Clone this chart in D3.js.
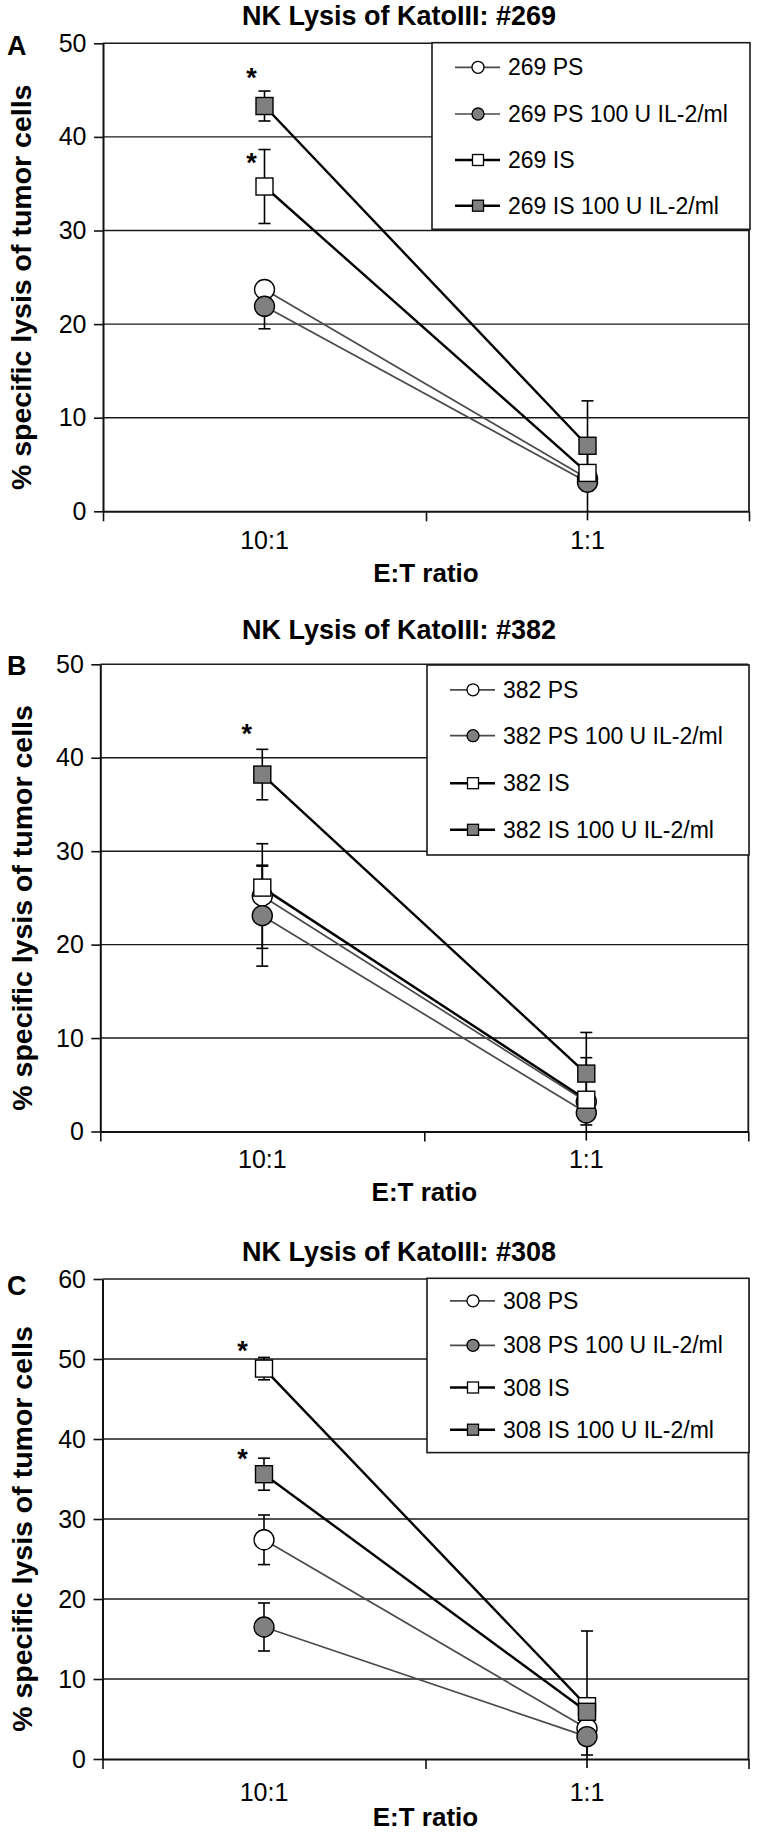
<!DOCTYPE html>
<html>
<head>
<meta charset="utf-8">
<script src="https://cdn.jsdelivr.net/npm/d3@7"></script>
<style>
  body { margin: 0; background: #fff; }
  text { font-family: "Liberation Sans", Arial, Helvetica, sans-serif; fill: #000; }
</style>
</head>
<body>
<script>
// data
var categories = ["10:1", "1:1"];
var seriesNames = ["PS", "PS 100 U IL-2/ml", "IS", "IS 100 U IL-2/ml"];
var donors = ["269", "382", "308"];
var panelLetters = ["A", "B", "C"];

// mean % lysis, one row per series: [10:1, 1:1]
var lysis269 = [[23.7, 3.5], [21.9, 3.1], [34.7, 4.1], [43.3, 7.0]];
var lysis382 = [[25.2, 3.2], [23.1, 2.0], [26.1, 3.4], [38.2, 6.2]];
var lysis308 = [[27.4, 3.8], [16.5, 2.8], [48.8, 6.6], [35.6, 5.9]];

// error bar half-widths
var err269 = [[0.8, 0.8], [2.4, 4.4], [3.95, 0.8], [1.6, 4.8]];
var err382 = [[5.6, 0.8], [5.4, 1.3], [2.3, 4.5], [2.7, 4.4]];
var err308 = [[3.1, 0.8], [3.0, 2.3], [1.4, 9.4], [2.0, 0.8]];

// significance asterisks at 10:1 (value on the y scale)
var stars269 = [46.9, 37.8];
var stars382 = [43.2];
var stars308 = [51.75, 38.3];

var yTicks269 = [0, 10, 20, 30, 40, 50];
var yTicks382 = [0, 10, 20, 30, 40, 50];
var yTicks308 = [0, 10, 20, 30, 40, 50, 60];

var panels = [
  {lysis: lysis269, err: err269, stars: stars269, ticks: yTicks269},
  {lysis: lysis382, err: err382, stars: stars382, ticks: yTicks382},
  {lysis: lysis308, err: err308, stars: stars308, ticks: yTicks308}
];

// page layout per panel (pixels)
var layout = [
  {left: 103, right: 749, top: 43.3, bottom: 511.3, titleY: 25, letterY: 55, yTitleX: 31, xTickPad: 20, xTitleY: 581.7,
   legend: {x: 432, y: 42.7, w: 318, h: 186.6, rows: [24.6, 71.3, 117.3, 163]}, starDx: -13},
  {left: 100.3, right: 748.3, top: 664.3, bottom: 1131.5, titleY: 639.3, letterY: 675, yTitleX: 31.5, xTickPad: 18.5, xTitleY: 1201,
   legend: {x: 427, y: 665, w: 322, h: 190, rows: [24.8, 70.7, 118.2, 164.8]}, starDx: -15.6},
  {left: 102.5, right: 748.5, top: 1279, bottom: 1759, titleY: 1261, letterY: 1295, yTitleX: 31.5, xTickPad: 24.6, xTitleY: 1826,
   legend: {x: 427, y: 1278.3, w: 322, h: 174.3, rows: [22.5, 67, 109.2, 151.4]}, starDx: -21.5}
];

var gray = "#808080";
var lineColor = ["#4a4a4a", "#4a4a4a", "#000", "#000"];
var lineWidth = [1.7, 1.7, 2.4, 2.4];
var markerFill = ["#fff", gray, "#fff", gray];
var isSquare = [false, false, true, true];

var svg = d3.select("body").append("svg")
    .attr("width", 776)
    .attr("height", 1838);

panels.forEach(function(p, pi) {
  var L = layout[pi];
  var g = svg.append("g");
  var ymax = d3.max(p.ticks);

  var y = d3.scaleLinear().domain([0, ymax]).range([L.bottom, L.top]);
  var x = d3.scaleBand().domain(categories).range([L.left, L.right]).padding(0);
  var xb = d3.scaleLinear().domain([0, categories.length]).range([L.left, L.right]);
  var cx = function(i) { return x(categories[i]) + x.bandwidth() / 2; };

  // title and panel letter
  g.append("text")
      .attr("x", 399).attr("y", L.titleY)
      .attr("text-anchor", "middle")
      .style("font-size", "27px").style("font-weight", "bold")
      .text("NK Lysis of KatoIII: #" + donors[pi]);

  g.append("text")
      .attr("x", 7).attr("y", L.letterY)
      .style("font-size", "27px").style("font-weight", "bold")
      .text(panelLetters[pi]);

  // gridlines
  g.selectAll(".grid")
      .data(p.ticks.filter(function(t) { return t > 0; }))
      .enter().append("line")
      .attr("x1", L.left).attr("x2", L.right)
      .attr("y1", function(d) { return y(d); })
      .attr("y2", function(d) { return y(d); })
      .attr("stroke", "#1a1a1a").attr("stroke-width", 1.4);

  // right border of the plot area
  g.append("line")
      .attr("x1", L.right).attr("x2", L.right)
      .attr("y1", L.top).attr("y2", L.bottom)
      .attr("stroke", "#1a1a1a").attr("stroke-width", 1.8);

  // y axis
  var yAxis = g.append("g")
      .attr("transform", "translate(" + L.left + ",0)")
      .call(d3.axisLeft(y).tickValues(p.ticks).tickSize(9).tickSizeOuter(0).tickPadding(7.5));
  yAxis.select(".domain").attr("stroke", "#111").attr("stroke-width", 2);
  yAxis.selectAll(".tick line").attr("stroke", "#111").attr("stroke-width", 1.6);
  yAxis.selectAll("text").style("font-size", "25px").attr("fill", "#000");

  // x axis: ticks between categories, labels at centres
  var xTicks = g.append("g")
      .attr("transform", "translate(0," + L.bottom + ")")
      .call(d3.axisBottom(xb).tickValues(d3.range(categories.length + 1)).tickFormat("").tickSize(10).tickSizeOuter(0));
  xTicks.select(".domain").attr("stroke", "#111").attr("stroke-width", 2);
  xTicks.selectAll(".tick line").attr("stroke", "#111").attr("stroke-width", 1.6);

  var xLabels = g.append("g")
      .attr("transform", "translate(0," + L.bottom + ")")
      .call(d3.axisBottom(x).tickSize(0).tickPadding(L.xTickPad));
  xLabels.select(".domain").remove();
  xLabels.selectAll("text").style("font-size", "25px").attr("fill", "#000");

  // axis titles
  g.append("text")
      .attr("transform", "translate(" + L.yTitleX + "," + ((L.top + L.bottom) / 2 + 10) + ") rotate(-90)")
      .attr("text-anchor", "middle")
      .style("font-size", "28.5px").style("font-weight", "bold")
      .text("% specific lysis of tumor cells");

  g.append("text")
      .attr("x", (L.left + L.right) / 2).attr("y", L.xTitleY)
      .attr("text-anchor", "middle")
      .style("font-size", "26px").style("font-weight", "bold")
      .text("E:T ratio");

  // error bars (cap hidden when the end falls below the axis)
  var lowLimit = L.bottom + 9;
  p.lysis.forEach(function(vals, si) {
    vals.forEach(function(v, ci) {
      var e = p.err[si][ci];
      var yt = y(v + e), yb = Math.min(y(v - e), lowLimit);
      var xc = cx(ci);
      g.append("line")
          .attr("x1", xc).attr("x2", xc).attr("y1", yt).attr("y2", yb)
          .attr("stroke", "#000").attr("stroke-width", 1.6);
      g.append("line")
          .attr("x1", xc - 6).attr("x2", xc + 6).attr("y1", yt).attr("y2", yt)
          .attr("stroke", "#000").attr("stroke-width", 1.6);
      if (v - e >= 0) {
        g.append("line")
            .attr("x1", xc - 6).attr("x2", xc + 6).attr("y1", y(v - e)).attr("y2", y(v - e))
            .attr("stroke", "#000").attr("stroke-width", 1.6);
      }
    });
  });

  // lines
  var line = d3.line()
      .x(function(d, i) { return cx(i); })
      .y(function(d) { return y(d); });

  p.lysis.forEach(function(vals, si) {
    g.append("path")
        .attr("d", line(vals))
        .attr("fill", "none")
        .attr("stroke", lineColor[si])
        .attr("stroke-width", lineWidth[si]);
  });

  // markers
  p.lysis.forEach(function(vals, si) {
    vals.forEach(function(v, ci) {
      if (isSquare[si]) {
        g.append("rect")
            .attr("x", cx(ci) - 8.5).attr("y", y(v) - 8.5)
            .attr("width", 17).attr("height", 17)
            .attr("fill", markerFill[si]).attr("stroke", "#000").attr("stroke-width", 1.4);
      } else {
        g.append("circle")
            .attr("cx", cx(ci)).attr("cy", y(v)).attr("r", 10)
            .attr("fill", markerFill[si]).attr("stroke", "#000").attr("stroke-width", 1.4);
      }
    });
  });

  // asterisks
  g.selectAll(".star")
      .data(p.stars)
      .enter().append("text")
      .attr("x", cx(0) + L.starDx)
      .attr("y", function(d) { return y(d) + 15; })
      .attr("text-anchor", "middle")
      .style("font-size", "27px").style("font-weight", "bold")
      .text("*");

  // legend
  var lg = L.legend;
  g.append("rect")
      .attr("x", lg.x).attr("y", lg.y).attr("width", lg.w).attr("height", lg.h)
      .attr("fill", "#fff").attr("stroke", "#1a1a1a").attr("stroke-width", 1.6);

  seriesNames.forEach(function(name, si) {
    var ry = lg.y + lg.rows[si];
    var mx = lg.x + 46;
    g.append("line")
        .attr("x1", lg.x + 23).attr("x2", lg.x + 68)
        .attr("y1", ry).attr("y2", ry)
        .attr("stroke", lineColor[si]).attr("stroke-width", lineWidth[si]);
    if (isSquare[si]) {
      g.append("rect")
          .attr("x", mx - 5.5).attr("y", ry - 5.5).attr("width", 11).attr("height", 11)
          .attr("fill", markerFill[si]).attr("stroke", "#000").attr("stroke-width", 1.3);
    } else {
      g.append("circle")
          .attr("cx", mx).attr("cy", ry).attr("r", 6)
          .attr("fill", markerFill[si]).attr("stroke", "#000").attr("stroke-width", 1.3);
    }
    g.append("text")
        .attr("x", lg.x + 76).attr("y", ry)
        .attr("dy", "0.35em")
        .style("font-size", "23px")
        .text(donors[pi] + " " + name);
  });
});
</script>
</body>
</html>
